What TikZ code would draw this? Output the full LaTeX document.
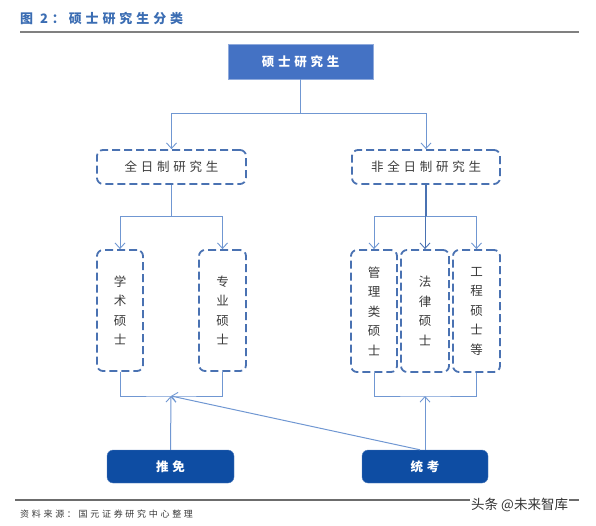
\documentclass[tikz,border=0pt]{standalone}
\usepackage{fontspec}
\usetikzlibrary{arrows.meta}
\newfontfamily\cjk[LetterSpace=30]{Noto Sans CJK SC}
\newfontfamily\cjkplain{Noto Sans CJK SC}
\definecolor{lineblue}{HTML}{7097D2}
\definecolor{dashblue}{HTML}{4A72B2}
\definecolor{topblue}{HTML}{4472C4}
\definecolor{darkblue}{HTML}{0E4DA3}
\definecolor{titleblue}{HTML}{3B6DB3}
\definecolor{txtgray}{HTML}{3A3A3A}
\tikzset{
  conn/.style={draw=lineblue, line width=1pt},
  arr/.style={conn, -{Straight Barb[length=5.5pt,width=10pt,line width=0.9pt]}},
  topbox/.style={fill=topblue, draw=topblue!60, line width=0.8pt, minimum width=145pt, minimum height=35pt, text=white, font=\cjk\fontsize{12.5}{14}\selectfont\bfseries},
  dbox/.style={draw=dashblue, line width=1.8pt, dash pattern=on 8pt off 4pt, rounded corners=6pt, text=txtgray, font=\cjk\fontsize{12.5}{14}\selectfont},
  vbox/.style={dbox, minimum width=46pt, minimum height=121pt, align=center, font=\cjkplain\fontsize{12.5}{19.5}\selectfont},
  bbox/.style={fill=darkblue, draw=darkblue!70, rounded corners=6pt, minimum width=127pt, minimum height=33pt, text=white, font=\cjk\fontsize{12.5}{14}\selectfont\bfseries},
}
\begin{document}
\begin{tikzpicture}[x=1pt,y=-1pt]
\useasboundingbox (0,0) rectangle (596,526);
% title and rules
\node[anchor=west, text=titleblue, font=\cjk\fontsize{13}{14}\selectfont\bfseries, inner sep=0pt] (title) at (20,19) {图 2：硕士研究生分类};
\draw[draw=gray, line width=2pt] (20,32.5) -- (579,32.5);
\draw[draw=gray!85!black, line width=1.2pt] (15,500) -- (579,500);
\node[anchor=west, text=txtgray, font=\cjk\fontsize{9}{10}\selectfont, inner sep=0pt] (src) at (20,514) {资料来源：国元证券研究中心整理};
\node[anchor=west, text=black!80, font=\cjkplain\fontsize{13.5}{14}\selectfont, inner sep=1pt, fill=white] (wm) at (470,505) {头条 @未来智库};
% nodes
\node[topbox] (top) at (300.5,61.5) {硕士研究生};
\node[dbox, minimum width=149pt, minimum height=34pt] (ft) at (171.5,167) {全日制研究生};
\node[dbox, minimum width=148pt, minimum height=34pt] (pt) at (426,167) {非全日制研究生};
\node[vbox] (xs) at (120,310.5) {学\\术\\硕\\士};
\node[vbox, minimum width=47pt] (zy) at (222.5,310.5) {专\\业\\硕\\士};
\node[vbox, minimum height=122pt] (gl) at (374,311) {管\\理\\类\\硕\\士};
\node[vbox, minimum width=48pt, minimum height=122pt] (fl) at (425,311) {法\\律\\硕\\士};
\node[vbox, minimum width=47pt, minimum height=122pt] (gc) at (476.5,311) {工\\程\\硕\\士\\等};
\node[bbox] (tm) at (170.5,466.5) {推免};
\node[bbox, minimum width=126pt] (tk) at (425,466.5) {统考};
% junctions
\coordinate (j0) at (300.5,114);
\coordinate (j1) at (171.5,217);
\coordinate (j2) at (426,217);
\coordinate (b1) at (171,396);
\coordinate (b2) at (425,396);
% connectors
\draw[conn] (top) -- (j0);
\draw[arr] (j0) -| (ft);
\draw[arr] (j0) -| (pt);
\draw[conn] (ft) -- (j1);
\draw[arr] (j1) -| (xs);
\draw[arr] (j1) -| (zy);
\draw[conn, line width=1.3pt, draw=dashblue] (pt) -- (j2);
\draw[arr] (j2) -| (gl);
\draw[arr] (j2) -| (gc);
\draw[arr, draw=dashblue] (j2) -| (fl);
\draw[conn] (xs.south) |- (b1) -| (zy.south);
\draw[conn] (gl.south) |- (b2) -| (gc.south);
\draw[arr] (tm.north) -- (b1);
\draw[arr] (tk.north) -- (b2);
\draw[arr] ([xshift=-5pt]tk.north) -- (b1);
\end{tikzpicture}
\end{document}
